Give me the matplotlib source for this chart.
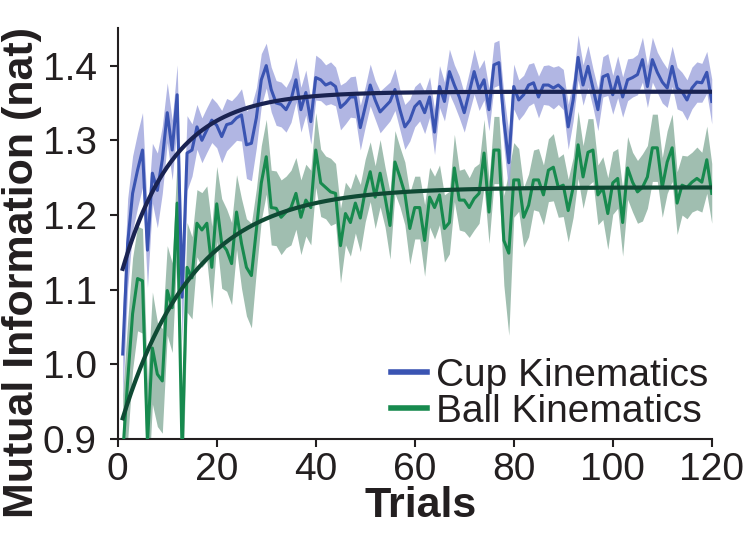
import numpy as np
import matplotlib
matplotlib.use("Agg")
import matplotlib.pyplot as plt

trials = list(range(1, 121))

cup_mean = [
    1.014, 1.162, 1.229, 1.260, 1.287, 1.153, 1.256, 1.233, 1.274, 1.337,
    1.287, 1.361, 1.090, 1.283, 1.287, 1.318, 1.300, 1.314, 1.327, 1.320,
    1.305, 1.321, 1.323, 1.330, 1.334, 1.294, 1.296, 1.330, 1.381, 1.400,
    1.368, 1.350, 1.348, 1.341, 1.354, 1.381, 1.341, 1.364, 1.325, 1.384,
    1.381, 1.374, 1.377, 1.372, 1.344, 1.350, 1.358, 1.358, 1.317, 1.345,
    1.374, 1.354, 1.338, 1.345, 1.352, 1.368, 1.341, 1.318, 1.327, 1.345,
    1.352, 1.337, 1.358, 1.311, 1.372, 1.352, 1.392, 1.374, 1.358, 1.337,
    1.364, 1.392, 1.368, 1.381, 1.341, 1.401, 1.404, 1.327, 1.270, 1.372,
    1.354, 1.361, 1.374, 1.377, 1.358, 1.374, 1.374, 1.370, 1.374, 1.368,
    1.318, 1.354, 1.411, 1.374, 1.399, 1.370, 1.341, 1.385, 1.388, 1.361,
    1.385, 1.358, 1.381, 1.384, 1.388, 1.408, 1.372, 1.408, 1.391, 1.378,
    1.370, 1.399, 1.370, 1.365, 1.354, 1.370, 1.378, 1.377, 1.391, 1.352,
]

cup_err = [
    0.060, 0.060, 0.050, 0.050, 0.050, 0.050, 0.040, 0.050, 0.045, 0.040,
    0.040, 0.040, 0.060, 0.050, 0.035, 0.030, 0.030, 0.030, 0.030, 0.030,
    0.035, 0.035, 0.030, 0.030, 0.035, 0.045, 0.050, 0.040, 0.035, 0.030,
    0.030, 0.030, 0.030, 0.030, 0.030, 0.030, 0.030, 0.030, 0.030, 0.030,
    0.028, 0.027, 0.028, 0.026, 0.030, 0.028, 0.027, 0.028, 0.030, 0.027,
    0.028, 0.026, 0.028, 0.027, 0.026, 0.028, 0.027, 0.030, 0.028, 0.027,
    0.026, 0.028, 0.027, 0.030, 0.028, 0.026, 0.030, 0.027, 0.028, 0.026,
    0.027, 0.030, 0.028, 0.027, 0.028, 0.030, 0.030, 0.035, 0.040, 0.030,
    0.027, 0.026, 0.028, 0.027, 0.028, 0.026, 0.027, 0.028, 0.026, 0.027,
    0.030, 0.028, 0.030, 0.027, 0.028, 0.026, 0.028, 0.027, 0.028, 0.026,
    0.028, 0.027, 0.028, 0.026, 0.027, 0.030, 0.028, 0.030, 0.027, 0.028,
    0.026, 0.027, 0.028, 0.026, 0.027, 0.028, 0.027, 0.026, 0.028, 0.030,
]

ball_mean = [
    0.880, 0.978, 1.068, 1.115, 1.112, 0.895, 1.022, 0.987, 0.978, 1.099,
    1.076, 1.216, 0.880, 1.130, 1.116, 1.189, 1.180, 1.189, 1.130, 1.215,
    1.162, 1.153, 1.135, 1.204, 1.162, 1.130, 1.119, 1.180, 1.243, 1.278,
    1.210, 1.209, 1.197, 1.204, 1.210, 1.229, 1.197, 1.220, 1.210, 1.287,
    1.243, 1.237, 1.231, 1.229, 1.159, 1.202, 1.190, 1.216, 1.196, 1.233,
    1.258, 1.224, 1.256, 1.224, 1.186, 1.271, 1.251, 1.229, 1.182, 1.210,
    1.210, 1.166, 1.224, 1.210, 1.227, 1.182, 1.190, 1.263, 1.220, 1.220,
    1.210, 1.222, 1.229, 1.283, 1.204, 1.287, 1.287, 1.166, 1.149, 1.247,
    1.247, 1.197, 1.213, 1.247, 1.247, 1.227, 1.260, 1.264, 1.237, 1.240,
    1.206, 1.237, 1.294, 1.251, 1.284, 1.287, 1.227, 1.236, 1.202, 1.243,
    1.249, 1.190, 1.263, 1.244, 1.231, 1.237, 1.251, 1.290, 1.290, 1.237,
    1.271, 1.290, 1.216, 1.240, 1.237, 1.244, 1.249, 1.244, 1.274, 1.229,
]

ball_err = [
    0.080, 0.080, 0.075, 0.070, 0.070, 0.080, 0.075, 0.070, 0.070, 0.060,
    0.060, 0.060, 0.080, 0.060, 0.055, 0.045, 0.050, 0.050, 0.055, 0.050,
    0.060, 0.055, 0.055, 0.050, 0.060, 0.065, 0.070, 0.055, 0.050, 0.050,
    0.050, 0.050, 0.050, 0.048, 0.050, 0.048, 0.050, 0.048, 0.050, 0.050,
    0.045, 0.042, 0.045, 0.040, 0.050, 0.042, 0.045, 0.040, 0.045, 0.042,
    0.040, 0.042, 0.045, 0.040, 0.045, 0.042, 0.040, 0.042, 0.048, 0.042,
    0.042, 0.048, 0.040, 0.042, 0.040, 0.045, 0.042, 0.045, 0.040, 0.042,
    0.040, 0.042, 0.040, 0.045, 0.042, 0.045, 0.045, 0.060, 0.110, 0.050,
    0.042, 0.040, 0.042, 0.040, 0.042, 0.040, 0.042, 0.045, 0.040, 0.042,
    0.042, 0.040, 0.045, 0.042, 0.045, 0.042, 0.040, 0.042, 0.048, 0.042,
    0.040, 0.045, 0.042, 0.040, 0.042, 0.045, 0.042, 0.045, 0.045, 0.040,
    0.042, 0.045, 0.042, 0.040, 0.042, 0.040, 0.042, 0.040, 0.045, 0.040,
]

# exponential-saturation fit parameters: y = plateau - amp * exp(-(t - 1) / tau)
cup_fit_params = {"plateau": 1.365, "amp": 0.237, "tau": 10.5}
ball_fit_params = {"plateau": 1.237, "amp": 0.309, "tau": 14.5}

x_ticks = [0, 20, 40, 60, 80, 100, 120]
y_ticks = [0.9, 1.0, 1.1, 1.2, 1.3, 1.4]
y_tick_labels = ["0.9", "1.0", "1.1", "1.2", "1.3", "1.4"]
series_labels = ["Cup Kinematics", "Ball Kinematics"]

plt.rcParams["font.family"] = ["Liberation Sans", "DejaVu Sans"]
INK = "#231f20"

fig = plt.figure(figsize=(7.5, 5.33), dpi=100)
ax = fig.add_axes([0.157, 0.176, 0.792, 0.771])

t = np.array(trials, dtype=float)
tf = np.linspace(1, 120, 400)

def fitcurve(p, x):
    return p["plateau"] - p["amp"] * np.exp(-(x - 1) / p["tau"])

cm, ce = np.array(cup_mean), np.array(cup_err)
bm, be = np.array(ball_mean), np.array(ball_err)

ax.fill_between(t, bm - be, bm + be, color="#8fb3a2", alpha=0.85, lw=0, zorder=1)
ax.fill_between(t, cm - ce, cm + ce, color="#a4a9df", alpha=0.85, lw=0, zorder=2)
lb, = ax.plot(t, bm, color="#178a4e", lw=2.2, zorder=3)
lc, = ax.plot(t, cm, color="#3a54b2", lw=2.2, zorder=4)
ax.plot(tf, fitcurve(ball_fit_params, tf), color="#0f4a34", lw=3.0, zorder=5)
ax.plot(tf, fitcurve(cup_fit_params, tf), color="#1a2352", lw=3.0, zorder=6)

ax.set_xlim(0, 120)
ax.set_ylim(0.9, 1.45)
ax.set_xticks(x_ticks)
ax.set_yticks(y_ticks)
ax.set_yticklabels(y_tick_labels)
ax.tick_params(axis="both", labelsize=28, width=1.5, length=6, color=INK,
               labelcolor=INK)
ax.tick_params(axis="x", pad=3)
ax.tick_params(axis="y", pad=9)
for s in ["top", "right"]:
    ax.spines[s].set_visible(False)
for s in ["left", "bottom"]:
    ax.spines[s].set_linewidth(1.5)
    ax.spines[s].set_color(INK)

ax.set_xlabel("Trials", fontsize=31, fontweight="bold", color=INK)
ax.xaxis.set_label_coords(0.51, -0.113)
ax.set_ylabel("Mutual Information (nat)", fontsize=31, fontweight="bold", color=INK)
ax.yaxis.set_label_coords(-0.128, 0.405)

leg = fig.legend([lc, lb], series_labels, loc="upper left",
                 bbox_to_anchor=(391 / 750, 1 - 358 / 533),
                 frameon=False, fontsize=28, handlelength=0.93, handletextpad=0.22,
                 labelspacing=0.0, borderpad=0, borderaxespad=0)
for h in leg.legend_handles:
    h.set_linewidth(4)
for txt in leg.get_texts():
    txt.set_color(INK)

fig.savefig("out.png", dpi=100)
